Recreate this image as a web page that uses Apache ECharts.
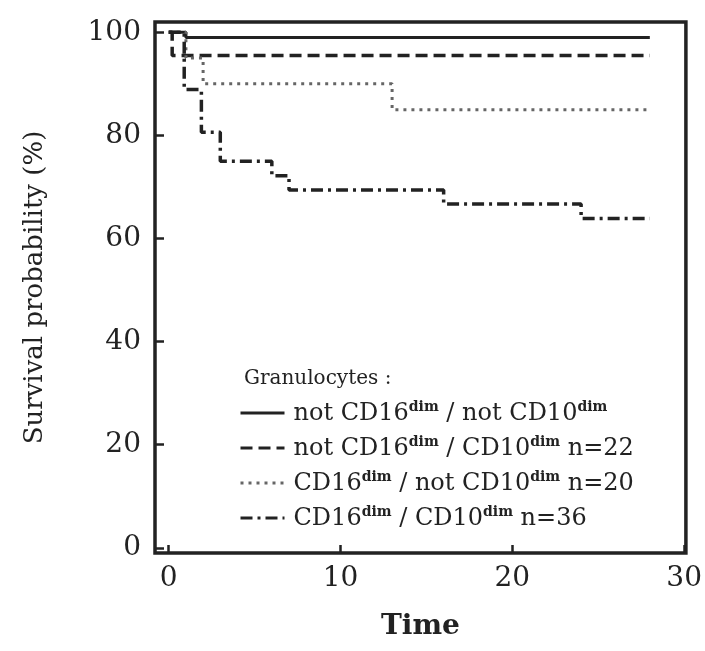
<!DOCTYPE html>
<html><head><meta charset="utf-8">
<script src="https://cdn.jsdelivr.net/npm/echarts@6/dist/echarts.min.js"></script>
<style>html,body{margin:0;padding:0;background:#fff}#c{width:705px;height:651px}</style>
</head><body><div id="c"></div>
<script>
// Kaplan-Meier curves: event times and survival (%)
const solidT = [0, 1, 28];
const solidS = [100, 99, 99];
const dashT = [0, 0.2, 28];
const dashS = [100, 95.5, 95.5];
const dotT = [0, 1, 2, 13, 28];
const dotS = [100, 95, 90, 85, 85];
const ddT = [0, 0.9, 1.9, 3, 6, 7, 16, 24, 28];
const ddS = [100, 88.9, 80.6, 75, 72.2, 69.4, 66.7, 63.9, 63.9];
const xTicks = [0, 10, 20, 30];
const yTicks = [0, 20, 40, 60, 80, 100];
const seriesNames = ['s1', 's2', 's3', 's4'];
const legendRich = {
  s1: '{g|}{t|not CD16}{u|dim}{t| / not CD10}{u|dim}',
  s2: '{g|}{t|not CD16}{u|dim}{t| / CD10}{u|dim}{t| n=22}',
  s3: '{g|}{t|CD16}{u|dim}{t| / not CD10}{u|dim}{t| n=20}',
  s4: '{g|}{t|CD16}{u|dim}{t| / CD10}{u|dim}{t| n=36}'
};
const zip = (a, b) => a.map((v, i) => [v, b[i]]);
const serif = '"DejaVu Serif","Liberation Serif",serif';
const ink = '#222';

const chart = echarts.init(document.getElementById('c'));
chart.setOption({
  animation: false,
  backgroundColor: '#fff',
  grid: { left: 155, right: 19, top: 22, bottom: 98, show: true, borderColor: ink, borderWidth: 3.5, backgroundColor: 'transparent' },
  xAxis: {
    type: 'value', min: -0.8, max: 30.1,
    name: 'Time', nameLocation: 'middle', nameGap: 60,
    nameTextStyle: { fontFamily: serif, fontSize: 28, fontWeight: 'bold', color: ink },
    axisLine: { show: false, onZero: false },
    axisTick: { show: true, inside: true, length: 8, lineStyle: { color: ink, width: 2.5 }, customValues: xTicks },
    axisLabel: { customValues: xTicks, fontFamily: serif, fontSize: 28, color: ink, margin: 12 },
    splitLine: { show: false }
  },
  yAxis: {
    type: 'value', min: -1, max: 102,
    name: 'Survival probability (%)', nameLocation: 'middle', nameGap: 107,
    nameTextStyle: { fontFamily: serif, fontSize: 26, color: ink },
    axisLine: { show: false, onZero: false },
    axisTick: { show: true, inside: true, length: 9, lineStyle: { color: ink, width: 2.5 }, customValues: yTicks },
    axisLabel: { customValues: yTicks, fontFamily: serif, fontSize: 28, color: ink, margin: 14 },
    splitLine: { show: false }
  },
  legend: {
    orient: 'vertical', left: 234, top: 395, itemGap: 9, itemWidth: 44, itemHeight: 14,
    itemStyle: { opacity: 0 },
    lineStyle: { width: 3 },
    data: seriesNames,
    formatter: n => legendRich[n],
    textStyle: {
      color: ink,
      rich: {
        g: { width: 4, lineHeight: 26 },
        t: { fontFamily: serif, fontSize: 24, color: ink, verticalAlign: 'bottom', lineHeight: 26 },
        u: { fontFamily: serif, fontSize: 14, fontWeight: 'bold', color: ink, verticalAlign: 'top', lineHeight: 26, padding: [0, 0, 10, 0] }
      }
    }
  },
  graphic: [{
    type: 'text', left: 244, top: 369,
    style: { text: 'Granulocytes :', font: '20px ' + serif, fill: ink }
  }],
  series: [
    { name: 's1', type: 'line', step: 'end', symbol: 'none', data: zip(solidT, solidS),
      lineStyle: { color: ink, width: 3, type: 'solid' }, itemStyle: { color: ink } },
    { name: 's2', type: 'line', step: 'end', symbol: 'none', data: zip(dashT, dashS),
      lineStyle: { color: ink, width: 3.5, type: [12, 6] }, itemStyle: { color: ink } },
    { name: 's3', type: 'line', step: 'end', symbol: 'none', data: zip(dotT, dotS),
      lineStyle: { color: '#666', width: 3, type: [3, 5] }, itemStyle: { color: '#666' } },
    { name: 's4', type: 'line', step: 'end', symbol: 'none', data: zip(ddT, ddS),
      lineStyle: { color: ink, width: 3.5, type: [12, 5, 3, 5] }, itemStyle: { color: ink } }
  ]
});
</script></body></html>
